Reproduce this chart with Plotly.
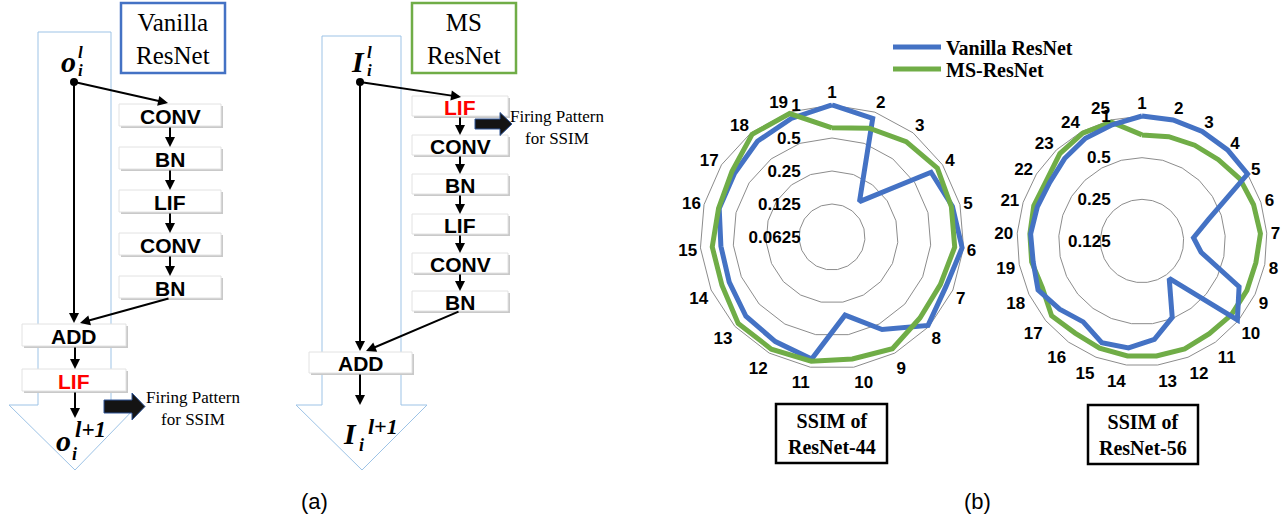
import math
import plotly.graph_objects as go

# ---------------- data ----------------
cats44 = [str(i) for i in range(1, 20)]
vanilla44 = [1.00, 0.87, 0.16, 0.75, 0.85, 0.97, 0.85, 0.97, 0.57, 0.33,
             0.84, 0.76, 0.73, 0.66, 0.65, 0.72, 0.72, 0.80, 0.87]
ms44 = [0.62, 0.70, 0.79, 0.88, 0.83, 0.83, 0.75, 0.77, 0.90, 0.84,
        0.88, 0.91, 0.91, 0.78, 0.78, 0.73, 0.77, 0.96, 0.97]

cats56 = [str(i) for i in range(1, 26)]
vanilla56 = [1.00, 1.00, 1.00, 1.00, 1.00, 0.40, 0.295, 0.34, 0.745, 0.98,
             0.27, 0.49, 0.65, 0.75, 0.77, 0.66, 0.74, 0.845, 0.79, 0.80,
             0.78, 0.77, 0.82, 0.88, 0.92]
ms56 = [0.73, 0.75, 0.77, 0.80, 0.86, 0.88, 0.90, 0.86, 0.86, 0.86,
        0.84, 0.86, 0.86, 0.86, 0.85, 0.83, 0.88, 0.78, 0.81, 0.81,
        0.83, 0.82, 0.92, 0.97, 0.96]
marked56 = 5  # first blocks drawn with square markers

ticks44 = [0.0625, 0.125, 0.25, 0.5, 1]
ticklabels44 = ["0.0625", "0.125", "0.25", "0.5", "1"]
ticks56 = [0.125, 0.25, 0.5, 1]
ticklabels56 = ["0.125", "0.25", "0.5", "1"]

W, H = 1286, 523
BLUE = "#4472C4"
GREEN = "#70AD47"
GRID = "#8c8c8c"
SANS = "Liberation Sans"
SERIF = "Liberation Serif"
PAD = "\u00a0" * 6  # keeps radial labels clear of the vertical axis
HEADROOM = 1.06     # radial room above 1 so thick lines on the outer ring are not clipped


def closed(vals):
    return list(vals) + [vals[0]]


fig = go.Figure()

# ---------------- radar charts ----------------
fig.add_trace(go.Scatterpolar(r=closed(vanilla44), theta=closed(cats44), mode="lines",
                              line=dict(color=BLUE, width=5), name="Vanilla ResNet",
                              subplot="polar", legend="legend"))
fig.add_trace(go.Scatterpolar(r=closed(ms44), theta=closed(cats44), mode="lines",
                              line=dict(color=GREEN, width=5), name="MS-ResNet",
                              subplot="polar", legend="legend2"))
fig.add_trace(go.Scatterpolar(r=closed(ms56), theta=closed(cats56), mode="lines",
                              line=dict(color=GREEN, width=5), showlegend=False,
                              subplot="polar2"))
fig.add_trace(go.Scatterpolar(r=closed(vanilla56), theta=closed(cats56), mode="lines",
                              line=dict(color=BLUE, width=5), showlegend=False,
                              subplot="polar2"))
# square marks on the first blocks (marker plus a square glyph at the same point)
fig.add_trace(go.Scatterpolar(r=vanilla56[:marked56], theta=cats56[:marked56],
                              mode="markers+text", text=["\u25a0"] * marked56,
                              textposition="middle center",
                              textfont=dict(family="DejaVu Sans", size=17, color=BLUE),
                              marker=dict(color=BLUE, size=13, symbol="square",
                                          line=dict(width=0)),
                              cliponaxis=False, showlegend=False, subplot="polar2"))

# node dots of the two residual blocks (also anchors the diagram axes)
fig.add_trace(go.Scatter(x=[74, 360], y=[82, 82], mode="markers",
                         marker=dict(color="black", size=8), showlegend=False,
                         hoverinfo="skip", xaxis="x", yaxis="y"))


def polar_layout(cx, cy, r_one, tickvals, ticktext, lo):
    # r_one: pixel radius of the ring at 1
    rad = r_one * math.log(HEADROOM / lo) / math.log(1 / lo)
    dom_x = [(cx - rad) / W, (cx + rad) / W]
    dom_y = [1 - (cy + rad) / H, 1 - (cy - rad) / H]
    tf = dict(family=SANS, size=17, color="black", weight="bold")
    return dict(
        domain=dict(x=dom_x, y=dom_y),
        bgcolor="rgba(0,0,0,0)",
        gridshape="linear",
        angularaxis=dict(type="category", rotation=90, direction="clockwise",
                         showgrid=False, showline=False, ticks="", tickfont=tf),
        radialaxis=dict(type="log", range=[math.log10(lo), math.log10(HEADROOM)],
                        tickvals=tickvals, ticktext=[t + PAD for t in ticktext],
                        angle=90, side="counterclockwise", showline=False, ticks="",
                        gridcolor=GRID, gridwidth=1, tickfont=tf, tickangle=90),
    )


shapes = []
annotations = []


def rect(x0, y0, x1, y1, line="black", width=1, fill=None):
    shapes.append(dict(type="rect", xref="x", yref="y", x0=x0, y0=y0, x1=x1, y1=y1,
                       line=dict(color=line, width=width),
                       fillcolor=fill if fill else "rgba(0,0,0,0)", layer="above"))


def path(d, line, width, fill=None):
    shapes.append(dict(type="path", xref="x", yref="y", path=d,
                       line=dict(color=line, width=width),
                       fillcolor=fill if fill else "rgba(0,0,0,0)", layer="above"))


def text(x, y, s, size, family=SANS, color="black", bold=False, italic=False,
         xanchor="center"):
    annotations.append(dict(x=x, y=y, xref="x", yref="y", text=s, showarrow=False,
                            xanchor=xanchor, yanchor="middle",
                            font=dict(family=family, size=size, color=color,
                                      weight="bold" if bold else "normal",
                                      style="italic" if italic else "normal")))


def arrow(x0, y0, x1, y1):
    annotations.append(dict(x=x1, y=y1, ax=x0, ay=y0, xref="x", yref="y",
                            axref="x", ayref="y", text="", showarrow=True,
                            arrowhead=2, arrowsize=1, arrowwidth=2,
                            arrowcolor="black", standoff=0, startstandoff=0))


def block(x0, y0, x1, y1, label, color="black"):
    rect(x0 + 2, y0 + 2, x1 + 2, y1 + 2, line="rgba(0,0,0,0)", fill="#c9c9c9")
    rect(x0, y0, x1, y1, line="#e2e2e2", width=1, fill="white")
    text((x0 + x1) / 2, (y0 + y1) / 2 + 1, label, 21, color=color, bold=True)


def math_label(x, y, base, sup, sub, sup_xy, sub_xy, size=30, sup_size=17, sub_size=17):
    text(x, y, base, size, family=SERIF, bold=True, italic=True)
    text(sup_xy[0], sup_xy[1], sup, sup_size, family=SERIF, bold=True, italic=True,
         xanchor="left")
    text(sub_xy[0], sub_xy[1], sub, sub_size, family=SERIF, bold=True, italic=True,
         xanchor="left")


def fat_arrow(x0, x1, xt, yc, half_body, half_head):
    path(f"M {x0} {yc - half_body} L {x1} {yc - half_body} L {x1} {yc - half_head} "
         f"L {xt} {yc} L {x1} {yc + half_head} L {x1} {yc + half_body} "
         f"L {x0} {yc + half_body} Z", line="#2F5597", width=1, fill="#141414")


# ---------------- (a) Vanilla ResNet block ----------------
path("M 38 32 L 111 32 L 111 405 L 138 405 L 75 470 L 9 405 L 38 405 Z", "#9DC3E6", 1)
rect(121, 3, 225, 73, line=BLUE, width=2.5, fill="white")
text(173, 39, "Vanilla<br>ResNet", 25, family=SERIF)
math_label(68, 61, "o", "l", "i", (76, 52), (76, 70))

arrow(74, 82, 168, 103)
arrow(74, 82, 74, 323)
v_rows = [(104, 126, "CONV"), (147, 169, "BN"), (190, 212, "LIF"),
          (233, 255, "CONV"), (276, 298, "BN")]
for i, (a, b, lab) in enumerate(v_rows):
    if i > 0:
        arrow(170, v_rows[i - 1][1], 170, a)
for a, b, lab in v_rows:
    block(119, a, 221, b, lab)
arrow(170, 298, 80, 323)
block(22, 324, 126, 346, "ADD")
arrow(75, 346, 75, 369)
block(22, 369, 126, 391, "LIF", color="#FF0000")
arrow(75, 391, 75, 418)
math_label(63, 440, "o", "l+1", "i", (73, 429), (70, 454), sup_size=23, sub_size=18)
fat_arrow(104, 132, 145, 406.5, 6.5, 13.5)
text(193, 408, "Firing Pattern<br>for SSIM", 17, family=SERIF)

# ---------------- (a) MS ResNet block ----------------
path("M 322 36 L 401 36 L 401 405 L 427 405 L 362 470 L 296 405 L 322 405 Z", "#9DC3E6", 1)
rect(412, 3, 516, 73, line=GREEN, width=2.5, fill="white")
text(464, 39, "MS<br>ResNet", 25, family=SERIF)
math_label(358, 61, "I", "l", "i", (365, 52), (365, 70))

arrow(360, 82, 461, 97)
arrow(360, 82, 360, 351)
m_rows = [(96, 116, "LIF"), (135, 155, "CONV"), (174, 194, "BN"),
          (214, 234, "LIF"), (253, 273, "CONV"), (291, 311, "BN")]
for i, (a, b, lab) in enumerate(m_rows):
    if i > 0:
        arrow(460, m_rows[i - 1][1], 460, a)
for i, (a, b, lab) in enumerate(m_rows):
    block(412, a, 508, b, lab, color="#FF0000" if i == 0 else "black")
arrow(460, 311, 366, 351)
block(309, 352, 412, 373, "ADD")
arrow(360, 373, 360, 405)
math_label(350, 433, "I", "l+1", "i", (366, 426), (357, 445), sup_size=22, sub_size=18)
fat_arrow(475, 500, 512, 124, 5, 11.5)
text(557, 127, "Firing Pattern<br>for SSIM", 17, family=SERIF)

text(314, 501, "(a)", 22, family=SANS)

# ---------------- (b) captions ----------------
rect(776, 404, 887, 463, line="black", width=2.5, fill="white")
text(831.5, 434, "SSIM of<br>ResNet-44", 20, family=SERIF, bold=True)
rect(1088, 405, 1198, 464, line="black", width=2.5, fill="white")
text(1143, 435, "SSIM of<br>ResNet-56", 20, family=SERIF, bold=True)
text(977, 501, "(b)", 22, family=SANS)

legend_style = dict(xanchor="left", yanchor="middle", bgcolor="rgba(0,0,0,0)",
                    itemwidth=48, borderwidth=0,
                    font=dict(family=SERIF, size=20, color="black", weight="bold"))

fig.update_layout(
    width=W, height=H,
    margin=dict(l=0, r=0, t=0, b=0),
    paper_bgcolor="white", plot_bgcolor="rgba(0,0,0,0)",
    xaxis=dict(range=[0, W], domain=[0, 1], visible=False, fixedrange=True),
    yaxis=dict(range=[H, 0], domain=[0, 1], visible=False, fixedrange=True),
    polar=polar_layout(832, 237, 132, ticks44, ticklabels44, 0.0625),
    polar2=polar_layout(1142, 241, 125, ticks56, ticklabels56, 0.125),
    shapes=shapes,
    annotations=annotations,
    showlegend=True,
    legend=dict(x=888 / W, y=1 - 47 / H, **legend_style),
    legend2=dict(x=888 / W, y=1 - 69 / H, **legend_style),
)

fig.write_html("out.html")
